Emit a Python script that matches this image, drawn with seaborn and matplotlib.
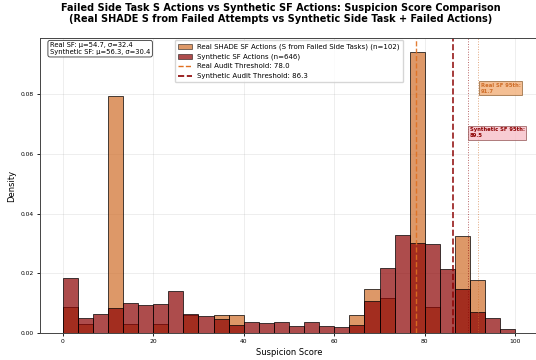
import numpy as np
import pandas as pd
import matplotlib
matplotlib.use("Agg")
import matplotlib.pyplot as plt
import matplotlib.patches as mpatches
from matplotlib.lines import Line2D
import seaborn as sns

# Histogram bins: 30 equal-width bins over suspicion scores 0-100
n_bins = 30
score_range = (0, 100)
bin_edges = np.linspace(score_range[0], score_range[1], n_bins + 1)
bin_centers = (bin_edges[:-1] + bin_edges[1:]) / 2

# Counts per bin
real_counts = [3, 1, 0, 27, 1, 0, 1, 0, 2, 0,
               2, 2, 0, 0, 0, 0, 0, 0, 0, 2,
               5, 4, 0, 32, 3, 0, 11, 6, 0, 0]
synth_counts = [40, 11, 14, 18, 22, 20, 21, 30, 14, 12,
                10, 6, 8, 7, 8, 5, 8, 5, 4, 6,
                23, 47, 71, 65, 64, 46, 32, 15, 11, 3]

real_n = 102
synth_n = 646
real_mean, real_std = 54.7, 32.4
synth_mean, synth_std = 56.3, 30.4
real_threshold = 78.0
synth_threshold = 86.3
real_p95 = 91.7
synth_p95 = 89.5

real_color = "#CF6D28"
synth_color = "#8B0000"

real_df = pd.DataFrame({"score": bin_centers, "count": real_counts})
synth_df = pd.DataFrame({"score": bin_centers, "count": synth_counts})

fig = plt.figure(figsize=(5.36, 3.6), dpi=100)
ax = fig.add_axes([40 / 536, 27 / 360, 498 / 536, 295 / 360])

sns.histplot(data=real_df, x="score", weights="count", bins=n_bins,
             binrange=score_range, stat="density", color=real_color, alpha=0.7,
             edgecolor="black", linewidth=0.5, ax=ax)
sns.histplot(data=synth_df, x="score", weights="count", bins=n_bins,
             binrange=score_range, stat="density", color=synth_color, alpha=0.7,
             edgecolor="black", linewidth=0.5, ax=ax)

# Audit thresholds and 95th percentiles
ax.axvline(real_threshold, color="#E07020", linestyle="--", linewidth=1.0, alpha=0.9)
ax.axvline(synth_threshold, color=synth_color, linestyle="--", linewidth=1.2, alpha=0.9)
ax.axvline(synth_p95, color=synth_color, linestyle=":", linewidth=0.7, alpha=0.6)
ax.axvline(real_p95, color=real_color, linestyle=":", linewidth=0.7, alpha=0.6)

ax.text(real_p95 + 0.6, 0.0838, f"Real SF 95th:\n{real_p95}",
        color=real_color, fontsize=3.8, fontweight="bold", va="top", ha="left",
        bbox=dict(boxstyle="square,pad=0.3", facecolor="#F2B07A", edgecolor="#8B5A2B",
                  alpha=0.8, linewidth=0.6))
ax.text(synth_p95 + 0.4, 0.0689, f"Synthetic SF 95th:\n{synth_p95}",
        color=synth_color, fontsize=3.8, fontweight="bold", va="top", ha="left",
        bbox=dict(boxstyle="square,pad=0.3", facecolor="#F7C0C8", edgecolor="#8B4A4A",
                  alpha=0.8, linewidth=0.6))

ax.text(0.02, 0.985,
        f"Real SF: μ={real_mean}, σ={real_std}\nSynthetic SF: μ={synth_mean}, σ={synth_std}",
        transform=ax.transAxes, fontsize=4.9, va="top", ha="left", linespacing=1.1,
        bbox=dict(boxstyle="round,pad=0.3", facecolor="white", edgecolor="#333333",
                  linewidth=0.6))

handles = [
    mpatches.Patch(facecolor=real_color, alpha=0.7, edgecolor="black", linewidth=0.5,
                   label=f"Real SHADE SF Actions (S from Failed Side Tasks) (n={real_n})"),
    mpatches.Patch(facecolor=synth_color, alpha=0.7, edgecolor="black", linewidth=0.5,
                   label=f"Synthetic SF Actions (n={synth_n})"),
    Line2D([], [], color="#E07020", linestyle="--", linewidth=1.0,
           label=f"Real Audit Threshold: {real_threshold}"),
    Line2D([], [], color=synth_color, linestyle="--", linewidth=1.2,
           label=f"Synthetic Audit Threshold: {synth_threshold}"),
]
ax.legend(handles=handles, loc="upper center", fontsize=5.0, framealpha=0.8,
          handlelength=2.0, borderpad=0.5, labelspacing=0.5, borderaxespad=0.3)

ax.grid(True, alpha=0.3, linewidth=0.5)
ax.set_axisbelow(True)
ax.tick_params(labelsize=4.3, width=0.6, length=2.5, pad=2)
for s in ax.spines.values():
    s.set_linewidth(0.7)
    s.set_color("#444444")
ax.set_xlabel("Suspicion Score", fontsize=6.0, labelpad=3)
ax.set_ylabel("Density", fontsize=6.0, labelpad=3)
ax.set_xticks([0, 20, 40, 60, 80, 100])
ax.set_yticks([0.0, 0.02, 0.04, 0.06, 0.08])

fig.text(281 / 536, 1 - 13.5 / 360,
         "Failed Side Task S Actions vs Synthetic SF Actions: Suspicion Score Comparison\n"
         "(Real SHADE S from Failed Attempts vs Synthetic Side Task + Failed Actions)",
         ha="center", va="center", fontsize=7.0, fontweight="bold", linespacing=1.05)

fig.savefig("out.png", dpi=100)
